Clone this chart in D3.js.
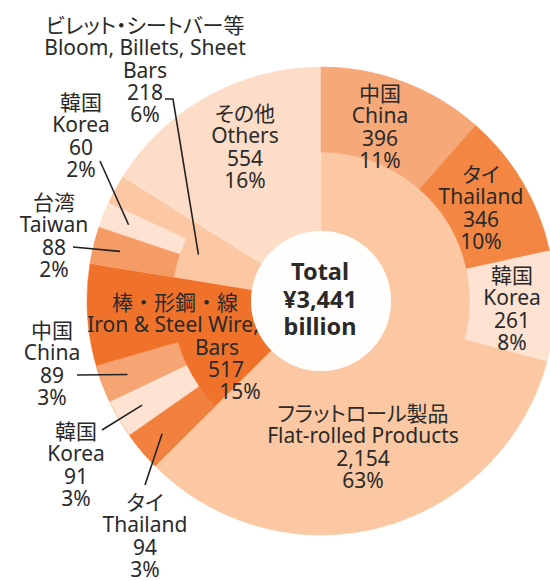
<!DOCTYPE html>
<html><head><meta charset="utf-8">
<script src="https://cdn.jsdelivr.net/npm/d3@7"></script>
<style>
html,body{margin:0;padding:0;background:#fff;}
text{font-family:"Noto Sans","Noto Sans CJK JP",sans-serif;font-feature-settings:"palt";fill:#2a2a2a;}
text.nopalt{font-feature-settings:normal;}
</style></head>
<body><svg id="c" width="550" height="581"></svg>
<script>
// ---- data ----
const innerNamesJa = ["フラットロール製品", "棒・形鋼・線", "ビレット・シートバー等", "その他"];
const innerNamesEn = ["Flat-rolled Products", "Iron & Steel Wire, Bars", "Bloom, Billets, Sheet Bars", "Others"];
const innerValues = [2154, 517, 218, 554];
const innerPct = ["63%", "15%", "6%", "16%"];
const outerParent = [0, 0, 0, 1, 1, 1, 2, 2];
const outerNamesJa = ["中国", "タイ", "韓国", "タイ", "韓国", "中国", "台湾", "韓国"];
const outerNamesEn = ["China", "Thailand", "Korea", "Thailand", "Korea", "China", "Taiwan", "Korea"];
const outerValues = [396, 346, 261, 94, 91, 89, 88, 60];
const outerPct = ["11%", "10%", "8%", "3%", "3%", "3%", "2%", "2%"];
const totalLines = ["Total", "¥3,441", "billion"];

// ---- styles ----
const innerColors = ["#FBC8A3", "#F0722A", "#FBC8A3", "#FDDDC8"];
const outerColors = ["#F6A878", "#F38643", "#FEE3D3", "#F2813F", "#FEE3D3", "#F6A473", "#F59B65", "#FEE3D3"];

const svg = d3.select("#c");
const cx = 321, cy = 301;
const r0 = 70, r1 = 149, r2 = 234;
const g = svg.append("g").attr("transform", `translate(${cx},${cy})`);

const pie = d3.pie().sort(null).value(d => d);
const innerArcs = pie(innerValues);
const total = d3.sum(innerValues);
const ang = d3.scaleLinear().domain([0, total]).range([0, 2 * Math.PI]);

// outer segments: cumulative within parent
const outerArcs = [];
const cum = innerArcs.map(a => a.startAngle);
outerValues.forEach((v, i) => {
  const p = outerParent[i];
  const s = cum[p];
  const e = s + ang(v);
  cum[p] = e;
  outerArcs.push({startAngle: s, endAngle: e, i});
});

const arcIn = d3.arc().innerRadius(r0).outerRadius(r2);
const arcOut = d3.arc().innerRadius(r1).outerRadius(r2);

g.selectAll("path.in").data(innerArcs).join("path")
  .attr("d", arcIn).attr("fill", (d, i) => innerColors[i])
  .attr("stroke", (d, i) => innerColors[i]).attr("stroke-width", 0.5);
g.selectAll("path.out").data(outerArcs).join("path")
  .attr("d", arcOut).attr("fill", d => outerColors[d.i])
  .attr("stroke", d => outerColors[d.i]).attr("stroke-width", 0.5);

g.append("circle").attr("r", r0).attr("fill", "#FFFEFD");

// ---- labels ----
const LH = 22.3;
function label(x, y, lines, xs, cls) {
  const t = svg.append("text").attr("text-anchor", "middle").style("font-size", "21px");
  if (cls) t.attr("class", cls);
  lines.forEach((s, k) => {
    t.append("tspan").attr("x", xs ? xs[k] : x).attr("y", y + k * LH).text(s);
  });
}
const fmt = d3.format(",");
// inner categories
label(363, 421, [innerNamesJa[0], innerNamesEn[0], fmt(innerValues[0]), innerPct[0]]);
label(174, 310, [innerNamesJa[1], "Iron & Steel Wire,", "Bars", fmt(innerValues[1]), innerPct[1]], [175, 173, 217, 226, 240], "nopalt");
label(145, 33, [innerNamesJa[2], "Bloom, Billets, Sheet", "Bars", fmt(innerValues[2]), innerPct[2]]);
label(245, 121, [innerNamesJa[3], innerNamesEn[3], fmt(innerValues[3]), innerPct[3]]);
// outer segments
const outerPos = [[380, 101], [481, 182], [512, 283], [145, 510], [76, 439], [52, 338], [54, 210], [81, 110]];
outerValues.forEach((v, i) => {
  label(outerPos[i][0], outerPos[i][1], [outerNamesJa[i], outerNamesEn[i], fmt(v), outerPct[i]]);
});

// total
const tt = svg.append("text").attr("text-anchor", "middle").style("font-size", "23.5px").style("font-weight", "bold");
totalLines.forEach((s, k) => tt.append("tspan").attr("x", cx - 1).attr("y", 280 + k * 27.5).text(s));

// ---- leader lines ----
const leaderR = 207;
function pt(a, r) { return [cx + r * Math.sin(a), cy - r * Math.cos(a)]; }
const mid = d => (d.startAngle + d.endAngle) / 2;
const leaders = [
  {from: [[165, 99], [173, 99]], to: pt(mid(innerArcs[2]), 131)},
  {from: [[100, 161]], to: pt(mid(outerArcs[7]), leaderR)},
  {from: [[73, 247]], to: pt(mid(outerArcs[6]), leaderR)},
  {from: [[77, 375]], to: pt(mid(outerArcs[5]), leaderR)},
  {from: [[102, 430]], to: pt(mid(outerArcs[4]), leaderR)},
  {from: [[145, 485]], to: pt(mid(outerArcs[3]), leaderR)}
];
leaders.forEach(l => {
  svg.append("path").attr("d", d3.line()([...l.from, l.to]))
    .attr("fill", "none").attr("stroke", "#222").attr("stroke-width", 1.6);
});
</script></body></html>
